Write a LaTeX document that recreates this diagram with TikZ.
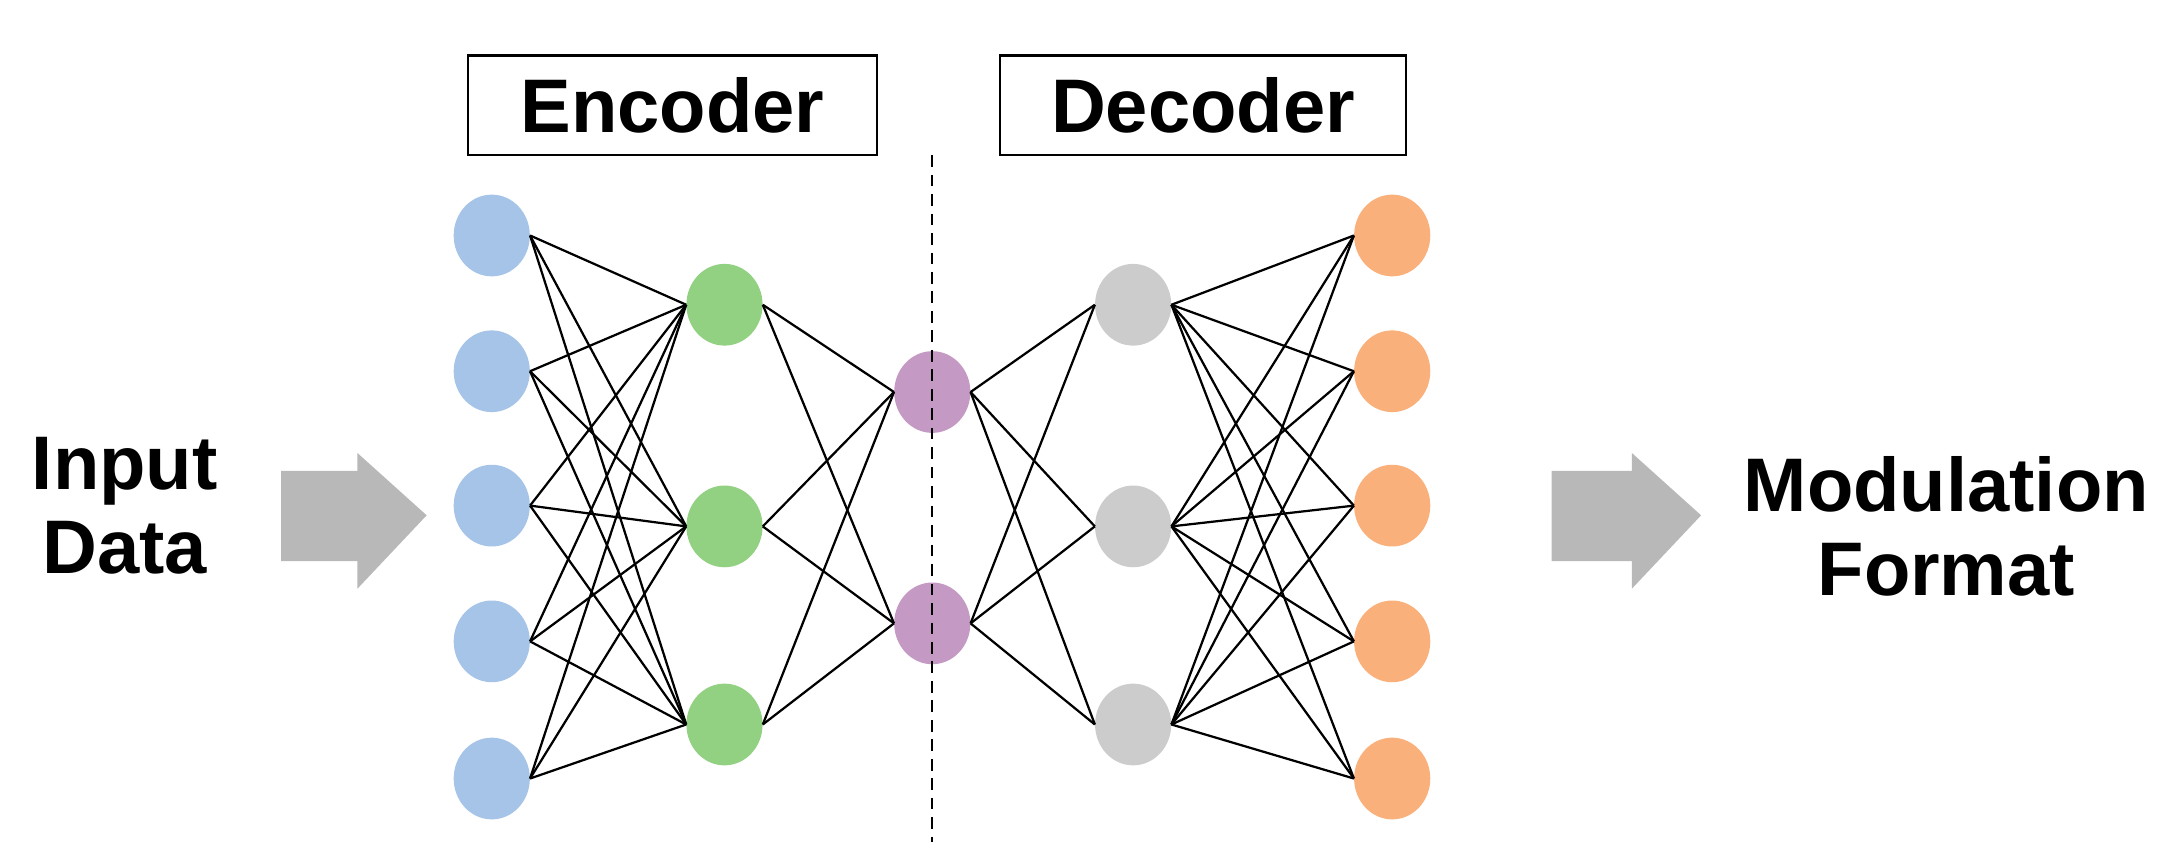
\documentclass[tikz,border=0pt]{standalone}
\usepackage{fontspec}
\setmainfont{Liberation Sans}
\usetikzlibrary{shapes.geometric}
\begin{document}
\begin{tikzpicture}[x=0.05cm,y=-0.05cm,
  neu/.style={ellipse,minimum width=2.75cm,minimum height=2.95cm,inner sep=0},
  lnk/.style={line width=2.3pt,black},
  lbl/.style={font=\fontsize{78}{86}\selectfont\bfseries,align=center},
  bigarrow/.style={fill=black!28}]
\useasboundingbox (0,0) rectangle (1560,625);
\foreach \i/\y in {1/170,2/268,3/365,4/463,5/562}{
  \node[neu,fill={rgb,255:red,166;green,196;blue,232}] (b\i) at (355,\y) {};
  \node[neu,fill={rgb,255:red,250;green,176;blue,122}] (o\i) at (1005,\y) {};}
\foreach \i/\y in {1/220,2/380,3/523}{
  \node[neu,fill={rgb,255:red,146;green,208;blue,130}] (g\i) at (523,\y) {};
  \node[neu,fill={rgb,255:red,204;green,204;blue,204}] (r\i) at (818,\y) {};}
\foreach \i/\y in {1/283,2/450}{
  \node[neu,fill={rgb,255:red,196;green,154;blue,196}] (p\i) at (673,\y) {};}
\foreach \a in {1,...,5}{\foreach \b in {1,2,3}{
  \draw[lnk] (b\a.east) -- (g\b.west);
  \draw[lnk] (r\b.east) -- (o\a.west);}}
\foreach \a in {1,2,3}{\foreach \b in {1,2}{
  \draw[lnk] (g\a.east) -- (p\b.west);
  \draw[lnk] (p\b.east) -- (r\a.west);}}
\coordinate (dt) at (673,112); \coordinate (db) at (673,608);
\draw[line width=2.3pt,dash pattern=on 12pt off 8pt] (dt) -- (db);
\node[draw,line width=2.5pt,minimum width=14.75cm,minimum height=3.6cm,lbl] (enc) at (485.5,76) {Encoder};
\node[draw,line width=2.5pt,minimum width=14.65cm,minimum height=3.6cm,lbl] (dec) at (868.5,76) {Decoder};
\node[lbl] (in) at (90,365) {Input\\Data};
\node[lbl] (out) at (1405,380) {Modulation\\Format};
\fill[bigarrow] (203,340) -- (258,340) -- (258,327) -- (308,372) -- (258,425) -- (258,405) -- (203,405) -- cycle;
\fill[bigarrow] (1120,340) -- (1178,340) -- (1178,327) -- (1228,372) -- (1178,425) -- (1178,405) -- (1120,405) -- cycle;
\end{tikzpicture}
\end{document}
